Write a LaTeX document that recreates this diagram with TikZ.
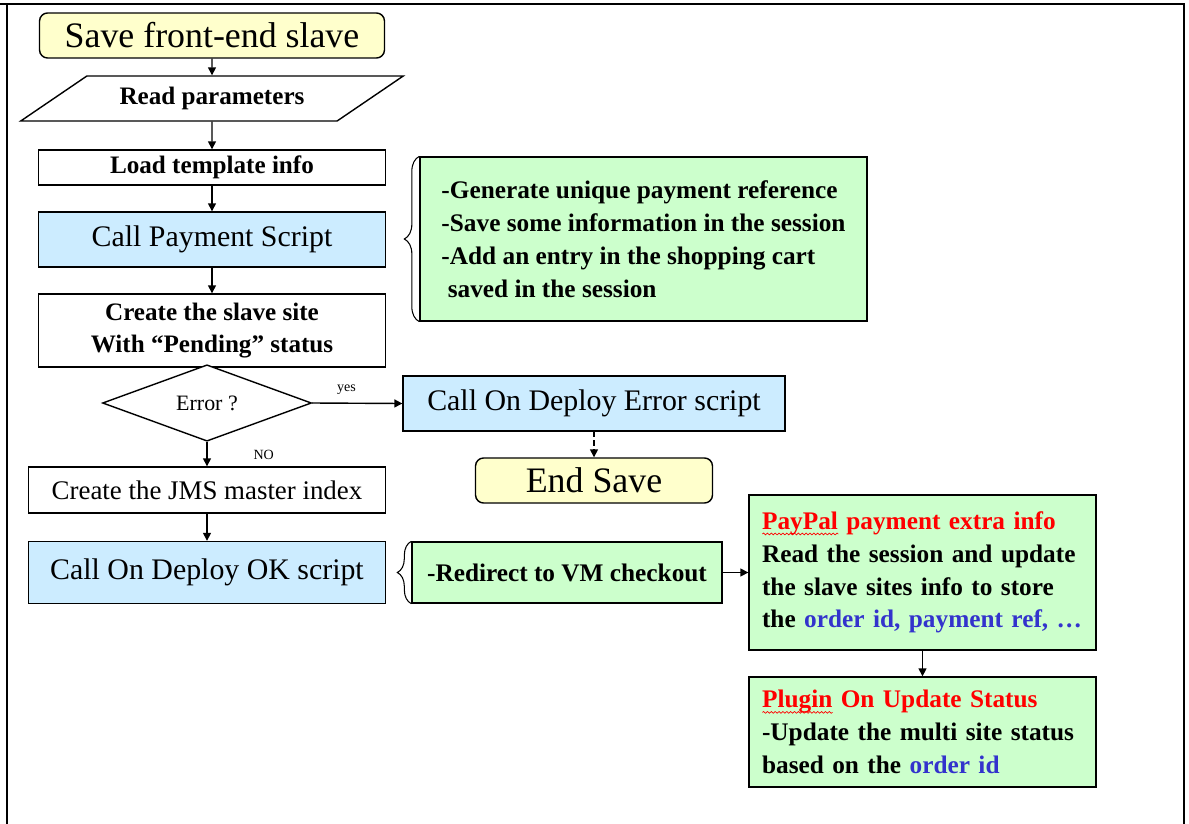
\documentclass[tikz,border=0pt]{standalone}
\usepackage{fontspec}
\setmainfont{Liberation Serif}
\usetikzlibrary{shapes.geometric, arrows.meta, decorations.pathreplacing, decorations.pathmorphing}

\definecolor{startyellow}{HTML}{FFFFCC}
\definecolor{callblue}{HTML}{CCECFF}
\definecolor{notegreen}{HTML}{CCFFCC}
\definecolor{linkblue}{HTML}{3333CC}

% spell-check squiggle under a word
\newsavebox{\wavybox}
\newcommand{\wavyword}[1]{\sbox{\wavybox}{#1}\rlap{\smash{\tikz[baseline=0pt, x=1pt, y=1pt]
    \draw[red, line width=0.4pt, decorate, decoration={snake, amplitude=0.5pt, segment length=2.2pt}]
    (0,-2.6) -- (\the\wd\wavybox,-2.6);}}\usebox{\wavybox}}

\begin{document}
\begin{tikzpicture}[x=0.02cm, y=-0.02cm,
    box/.style={draw, line width=0.8pt, inner sep=0pt},
    terminal/.style={box, fill=startyellow, rounded corners=0.16cm, font=\fontsize{20.4}{24}\selectfont},
    plain/.style={box, fill=white, align=center, font=\fontsize{14.3}{18.7}\selectfont\bfseries},
    call/.style={box, fill=callblue, font=\fontsize{17}{20}\selectfont},
    note/.style={box, fill=notegreen, align=left, font=\fontsize{14.4}{18.7}\selectfont\bfseries},
    flow/.style={-{Triangle[length=4.5pt,width=4.5pt]}, line width=0.8pt},
    curly/.style={decorate, decoration={brace, amplitude=#1}, line width=0.6pt}
]
    \useasboundingbox (0,0) rectangle (1189,824);

    % Frame
    \draw[line width=1.6pt] (7,824) -- (7,4);
    \draw[line width=1.6pt] (0,4) -- (1184,4) -- (1184,824);

    %% Main flow
    \node[terminal, minimum width=6.9cm, minimum height=0.9cm] (start) at (212,35.5) {Save front-end slave};
    \node[plain, trapezium, trapezium left angle=25, trapezium right angle=155, trapezium stretches=true,
        minimum width=7.66cm, minimum height=0.9cm] (read) at (212,98.5) {Read parameters};
    \node[plain, minimum width=6.94cm, minimum height=0.7cm] (load) at (212,167.5) {Load template info};
    \node[call, minimum width=6.94cm, minimum height=1.1cm] (pay) at (212,239.5) {Call Payment Script};
    \node[plain, minimum width=6.94cm, minimum height=1.46cm] (slave) at (212,330.5) {Create the slave site\\With “Pending” status};
    \node[box, diamond, fill=white, minimum width=4.18cm, minimum height=1.44cm,
        font=\fontsize{12.5}{15}\selectfont] (err) at (207,403) {Error ?};
    \node[box, fill=white, minimum width=7.14cm, minimum height=0.92cm,
        font=\fontsize{15.3}{18}\selectfont] (jms) at (207,490) {Create the JMS master index};
    \node[call, minimum width=7.14cm, minimum height=1.24cm] (ok) at (207,572.5) {Call On Deploy OK script};

    % Error branch
    \node[call, minimum width=7.64cm, minimum height=1.1cm] (fail) at (594,403.5) {Call On Deploy Error script};
    \node[terminal, minimum width=4.74cm, minimum height=0.9cm] (stop) at (594,480.5) {End Save};

    % Notes
    \node[note, minimum width=8.94cm, minimum height=3.28cm] (paynote) at (643.5,239)
        {-Generate unique payment reference\\-Save some information in the session\\-Add an entry in the shopping cart\\\hspace{0.25em}saved in the session};
    \node[note, minimum width=6.2cm, minimum height=1.22cm] (redirect) at (567,572.5) {-Redirect to VM checkout};
    \node[note, minimum width=6.94cm, minimum height=3.1cm, text width=6.42cm] (paypal) at (922.5,572.5)
        {\textcolor{red}{\wavyword{PayPal} payment extra info}\\Read the session and update\\the slave sites info to store\\the \textcolor{linkblue}{order id, payment ref, …}};
    \node[note, minimum width=6.94cm, minimum height=2.2cm, text width=6.42cm] (plugin) at (922.5,732)
        {\textcolor{red}{\wavyword{Plugin} On Update Status}\\-Update the multi site status\\based on the \textcolor{linkblue}{order id}};

    % Connectors
    \draw[flow] (start.south) -- (read.north);
    \draw[flow] (read.south) -- (load.north);
    \draw[flow] (load.south) -- (pay.north);
    \draw[flow] (pay.south) -- (slave.north);
    \draw[flow] (err.east) -- node[pos=0.38, above=1pt, font=\fontsize{8}{9}\selectfont] {yes} (fail.west);
    \draw[flow] (err.south) -- node[pos=0.55, right=0.8cm, font=\fontsize{8}{9}\selectfont] {NO} (jms.north);
    \draw[flow, dash pattern=on 3pt off 2pt] (fail.south) -- (stop.north);
    \draw[flow] (jms.south) -- (ok.north);
    \draw[flow] (redirect.east) -- (paypal.west);
    \draw[flow] (paypal.south) -- (plugin.north);

    % Braces
    \draw[curly=0.3cm] (paynote.south west) -- (paynote.north west);
    \draw[curly=0.28cm] (redirect.south west) -- (redirect.north west);

\end{tikzpicture}
\end{document}
